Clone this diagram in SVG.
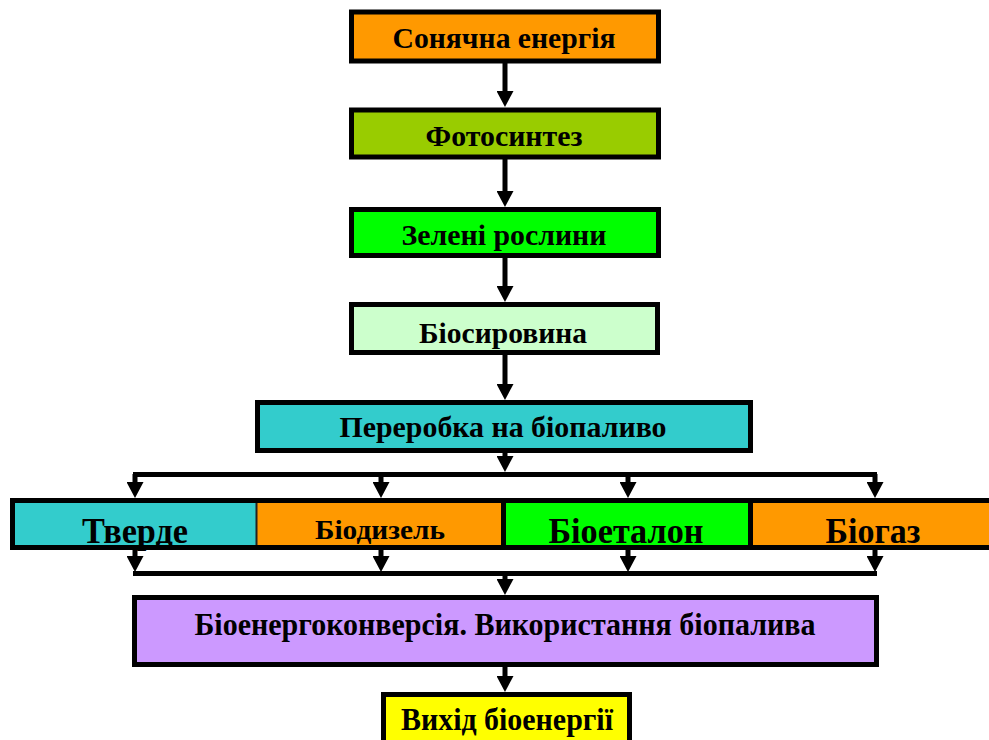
<svg xmlns="http://www.w3.org/2000/svg" width="989" height="740" viewBox="0 0 989 740">
<style>
.box{stroke:#000;stroke-width:5}
.edge{stroke:#000;stroke-width:5;fill:none}
.t{font-family:"Liberation Serif","Times New Roman","DejaVu Serif",serif;font-weight:bold;fill:#000;text-anchor:middle}
.c{stroke:#000;stroke-width:5;fill:none}
</style>
<defs>
<marker id="ah" viewBox="0 0 16 17" refX="2" refY="8.5" markerWidth="16" markerHeight="17" markerUnits="userSpaceOnUse" orient="auto">
<path d="M0,0 L16,8.5 L0,17 z" fill="#000"/>
</marker>
</defs>
<rect width="989" height="740" fill="#fff"/>
<g id="connectors">
<line class="c" x1="505" y1="63" x2="505" y2="93" marker-end="url(#ah)"/>
<line class="c" x1="505" y1="159" x2="505" y2="193" marker-end="url(#ah)"/>
<line class="c" x1="505" y1="258" x2="505" y2="288" marker-end="url(#ah)"/>
<line class="c" x1="505" y1="355" x2="505" y2="386" marker-end="url(#ah)"/>
<line class="c" x1="505" y1="453" x2="505" y2="458" marker-end="url(#ah)"/>
<line class="c" x1="133" y1="474.5" x2="877" y2="474.5"/>
<line class="c" x1="135" y1="474" x2="135" y2="484" marker-end="url(#ah)"/>
<line class="c" x1="381" y1="474" x2="381" y2="484" marker-end="url(#ah)"/>
<line class="c" x1="628" y1="474" x2="628" y2="484" marker-end="url(#ah)"/>
<line class="c" x1="875" y1="474" x2="875" y2="484" marker-end="url(#ah)"/>
<line class="c" x1="135" y1="550" x2="135" y2="558" marker-end="url(#ah)"/>
<line class="c" x1="381" y1="550" x2="381" y2="558" marker-end="url(#ah)"/>
<line class="c" x1="628" y1="550" x2="628" y2="558" marker-end="url(#ah)"/>
<line class="c" x1="875" y1="550" x2="875" y2="558" marker-end="url(#ah)"/>
<line class="c" x1="133" y1="573.5" x2="877" y2="573.5"/>
<line class="c" x1="505" y1="574" x2="505" y2="581" marker-end="url(#ah)"/>
<line class="c" x1="505" y1="667" x2="505" y2="678" marker-end="url(#ah)"/>
</g>
<g id="n1"><rect class="box" x="351.5" y="12" width="307" height="49" fill="#FF9900"/>
<text class="t" x="504" y="48" font-size="30" textLength="223" lengthAdjust="spacingAndGlyphs">Сонячна енергія</text></g>
<g id="n2"><rect class="box" x="351.5" y="110" width="307" height="47" fill="#99CC00"/>
<text class="t" x="504" y="146" font-size="30" textLength="157" lengthAdjust="spacingAndGlyphs">Фотосинтез</text></g>
<g id="n3"><rect class="box" x="351.5" y="209.5" width="307" height="46" fill="#00FF00"/>
<text class="t" x="504" y="245" font-size="30" textLength="205" lengthAdjust="spacingAndGlyphs">Зелені рослини</text></g>
<g id="n4"><rect class="box" x="351.5" y="304.5" width="306" height="48" fill="#CCFFCC"/>
<text class="t" x="503" y="343" font-size="30" textLength="168" lengthAdjust="spacingAndGlyphs">Біосировина</text></g>
<g id="n5"><rect class="box" x="257.5" y="402.5" width="493" height="48" fill="#33CCCC"/>
<text class="t" x="503" y="437" font-size="30" textLength="327" lengthAdjust="spacingAndGlyphs">Переробка на біопаливо</text></g>
<g id="n6"><rect x="12.5" y="500.5" width="244" height="47" fill="#33CCCC"/>
<path class="edge" d="M257,500.5 H12.5 V547.5 H257"/>
<text class="t" x="135" y="543" font-size="35" textLength="106" lengthAdjust="spacingAndGlyphs">Тверде</text></g>
<g id="n7"><rect x="256.5" y="500.5" width="247" height="47" fill="#FF9900"/>
<path class="edge" d="M256,500.5 H503.5 M256,547.5 H503.5"/>
<line x1="256.5" y1="503" x2="256.5" y2="545" stroke="#222" stroke-width="2"/>
<text class="t" x="380" y="539" font-size="27" textLength="130" lengthAdjust="spacingAndGlyphs">Біодизель</text></g>
<g id="n8"><rect class="box" x="503.5" y="500.5" width="247" height="47" fill="#00FF00"/>
<text class="t" x="626" y="543" font-size="35" textLength="155" lengthAdjust="spacingAndGlyphs">Біоеталон</text></g>
<g id="n9"><rect class="box" x="750.5" y="500.5" width="250" height="47" fill="#FF9900"/>
<text class="t" x="873" y="543" font-size="35" textLength="95" lengthAdjust="spacingAndGlyphs">Біогаз</text></g>
<g id="n10"><rect class="box" x="134.5" y="597.5" width="742" height="67" fill="#CC99FF"/>
<text class="t" x="505" y="635" font-size="32" textLength="621" lengthAdjust="spacingAndGlyphs">Біоенергоконверсія. Використання біопалива</text></g>
<g id="n11"><rect class="box" x="383.5" y="694.5" width="246" height="60" fill="#FFFF00"/>
<text class="t" x="507" y="730" font-size="32" textLength="212" lengthAdjust="spacingAndGlyphs">Вихід біоенергії</text></g>
</svg>
